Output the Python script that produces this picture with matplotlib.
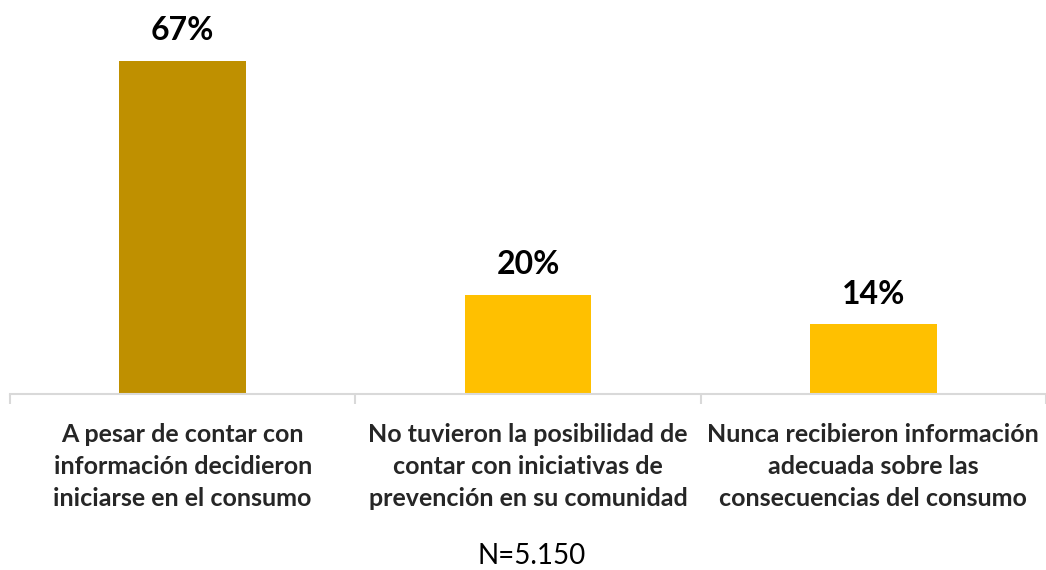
import matplotlib.pyplot as plt

categorias = ["A pesar de contar con\ninformación decidieron\niniciarse en el consumo",
              "No tuvieron la posibilidad de\ncontar con iniciativas de\nprevención en su comunidad",
              "Nunca recibieron información\nadecuada sobre las\nconsecuencias del consumo"]
valores = [67, 20, 14]
colores = ["#BF9000", "#FFC000", "#FFC000"]
nota = "N=5.150"

fig = plt.figure(figsize=(10.46, 5.70), dpi=100)
ax = fig.add_axes([10/1046, 176/570, 1036/1046, 394/570])

x = list(range(len(valores)))
ax.bar(x, valores, width=0.366, color=colores)
for xi, v in zip(x, valores):
    ax.text(xi, v + 4.2, f"{v}%", ha="center", va="baseline",
            fontsize=23, fontweight="bold", family="Lato", color="#000000")

ax.set_xlim(-0.5, 2.5)
ax.set_ylim(0, 79.3)
for s in ["top", "right", "left"]:
    ax.spines[s].set_visible(False)
ax.spines["bottom"].set_color("#D9D9D9")
ax.spines["bottom"].set_linewidth(1.5)
ax.set_yticks([])

ax.set_xticks(x)
ax.set_xticklabels(categorias, fontsize=18, fontweight="bold", family="Lato",
                   color="#262626", linespacing=1.47)
ax.tick_params(axis="x", which="major", length=0, pad=21)
ax.set_xticks([-0.5, 0.5, 1.5, 2.5], minor=True)
ax.tick_params(axis="x", which="minor", length=7, width=1.5, color="#D9D9D9")

fig.text(532/1046, 1 - 556/570, nota, ha="center", va="center",
         fontsize=20, family="Lato", color="#000000")

fig.savefig("out.png", dpi=100)
